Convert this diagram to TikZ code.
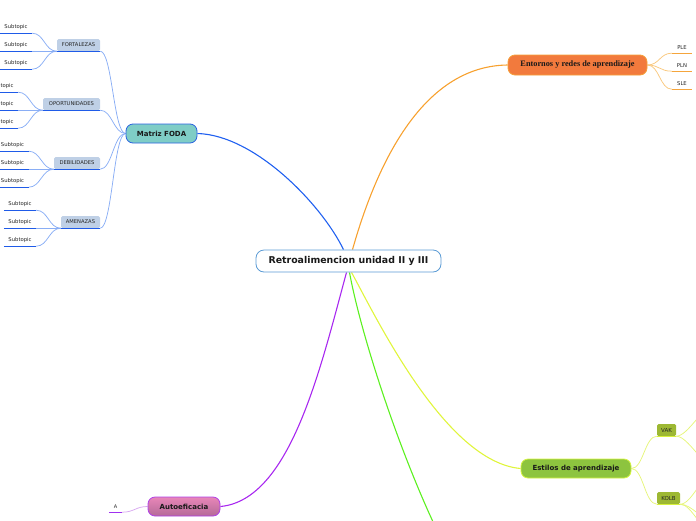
\documentclass[tikz,border=0pt]{standalone}
\usepackage{fontspec}
\setmainfont{DejaVu Sans}
\newfontfamily\serifbold{Liberation Serif}
\pgfdeclarelayer{background}
\pgfsetlayers{background,main}
\definecolor{cBorder}{HTML}{5B9BD5}
\definecolor{blueMain}{HTML}{2060F0}
\definecolor{mFill}{HTML}{7FCDC6}
\definecolor{mBorder}{HTML}{2A62E0}
\definecolor{fodaFill}{HTML}{BFD0E6}
\definecolor{fodaLine}{HTML}{1F5BE8}
\definecolor{subConn}{HTML}{8AAEF5}
\definecolor{oMain}{HTML}{F7A12F}
\definecolor{enFill}{HTML}{F27A3D}
\definecolor{enBorder}{HTML}{F5A03A}
\definecolor{oLight}{HTML}{F9C87E}
\definecolor{oLine}{HTML}{F5A53C}
\definecolor{yMain}{HTML}{E0F53C}
\definecolor{esFill}{HTML}{8DC43F}
\definecolor{esBorder}{HTML}{D6F442}
\definecolor{yLight}{HTML}{E6F57A}
\definecolor{vakFill}{HTML}{9DB833}
\definecolor{vakLine}{HTML}{D6F03C}
\definecolor{gMain}{HTML}{5CF020}
\definecolor{pMain}{HTML}{A828F0}
\definecolor{auTop}{HTML}{E886B8}
\definecolor{auBot}{HTML}{B46A98}
\definecolor{auBorder}{HTML}{B040E8}
\definecolor{pLight}{HTML}{D8A8F0}
\definecolor{pLine}{HTML}{A030F0}
\newcommand\lconn[3]{\draw[#1] (#2) .. controls +(-12,0) and +(12,0) .. (#3);}
\newcommand\rconn[3]{\draw[#1] (#2) .. controls +(12,0) and +(-12,0) .. (#3);}
\begin{document}
\begin{tikzpicture}[x=1pt,y=-1pt,
  central/.style={draw=cBorder,fill=white,rounded corners=8pt,line width=0.8pt,minimum width=185pt,minimum height=22pt,inner sep=0pt,font=\bfseries\fontsize{9.4}{10}\selectfont,text=black!90},
  topicbox/.style={rounded corners=7pt,line width=0.8pt,inner sep=0pt,minimum height=19pt,font=\bfseries\fontsize{7}{8}\selectfont,text=black!90},
  fodachild/.style={fill=fodaFill,rounded corners=1.5pt,inner sep=0pt,minimum height=12pt,font=\fontsize{5.2}{6}\selectfont,text=black!85},
  vakbox/.style={fill=vakFill,rounded corners=1.5pt,inner sep=0pt,minimum height=12pt,font=\fontsize{5.5}{6}\selectfont,text=black!85},
  subnode/.style={inner sep=0pt,minimum height=11pt,font=\fontsize{5.3}{6}\selectfont,text=black!85},
  mainconn/.style={line width=1.1pt},
  thinconn/.style={line width=0.75pt},
  uline/.style={line width=1.3pt}
]
\useasboundingbox (0,0) rectangle (696,520);
\clip (0,0) rectangle (696,520);

% ---- nodes ----
\node[central] (c) at (348.5,261) {Retroalimencion unidad II y III};
\node[topicbox,draw=mBorder,fill=mFill,minimum width=71pt] (m) at (161.5,133.5) {Matriz FODA};
\node[topicbox,draw=enBorder,fill=enFill,minimum width=139pt,minimum height=20pt,font=\serifbold\bfseries\fontsize{8.3}{9}\selectfont] (en) at (577.5,65) {Entornos y redes de aprendizaje};
\node[topicbox,draw=esBorder,fill=esFill,minimum width=110pt] (es) at (576,468.5) {Estilos de aprendizaje};
\node[topicbox,draw=auBorder,top color=auTop,bottom color=auBot,minimum width=72pt] (au) at (184,506.5) {Autoeficacia};

% FODA children
\node[fodachild,minimum width=43pt] (fo) at (78.5,45) {FORTALEZAS};
\node[fodachild,minimum width=57pt] (op) at (71.5,104) {OPORTUNIDADES};
\node[fodachild,minimum width=46pt] (de) at (77,163) {DEBILIDADES};
\node[fodachild,minimum width=39pt] (am) at (80.5,222) {AMENAZAS};
\foreach \n in {fo,op,de,am} \draw[uline,fodaLine] (\n.south west) -- (\n.south east);

% subtopics
\foreach \i/\yy in {1/27.5,2/45.5,3/63.5} {\node[subnode,minimum width=32pt] (fo\i) at (16,\yy) {Subtopic};}
\foreach \i/\yy in {1/86.5,2/104.5,3/122.5} {\node[subnode,minimum width=32pt] (op\i) at (2,\yy) {Subtopic};}
\foreach \i/\yy in {1/145.5,2/163.5,3/181.5} {\node[subnode,minimum width=32pt] (de\i) at (12.5,\yy) {Subtopic};}
\foreach \i/\yy in {1/204.5,2/222.5,3/240.5} {\node[subnode,minimum width=32pt] (am\i) at (20,\yy) {Subtopic};}
\foreach \n in {fo,op,de,am} {\foreach \i in {1,2,3} {\draw[uline,fodaLine] (\n\i.south west) -- (\n\i.south east);}}

% Entornos children
\node[subnode,minimum width=20pt] (ple) at (682,47.5) {PLE};
\node[subnode,minimum width=20pt] (pln) at (682,65.5) {PLN};
\node[subnode,minimum width=20pt] (sle) at (682,83.5) {SLE};
\foreach \n in {ple,pln,sle} \draw[uline,oLine,line width=1pt] (\n.south west) -- (\n.south east);

% Estilos children
\node[vakbox,minimum width=19pt] (vak) at (666.5,430) {VAK};
\node[vakbox,minimum width=23pt] (kolb) at (668.5,498) {KOLB};
\foreach \n in {vak,kolb} \draw[uline,vakLine,line width=1pt] (\n.south west) -- (\n.south east);
\coordinate (v1) at (715,405);
\coordinate (v2) at (715,467);
\coordinate (k1) at (715,472);
\coordinate (k2) at (715,522);
\coordinate (k3) at (715,535);

% Autoeficacia child
\node[subnode,minimum width=13pt,font=\fontsize{5}{6}\selectfont] (a) at (115.5,506.5) {A};
\draw[uline,pLine,line width=1pt] (a.south west) -- (a.south east);

% ---- connectors ----
\begin{pgfonlayer}{background}
\draw[mainconn,blueMain] (m.east) .. controls (255,135) and (322,205) .. ([xshift=-5pt]c.north);
\draw[mainconn,oMain] ([xshift=4pt]c.north) .. controls (375,170) and (420,66) .. (en.west);
\draw[mainconn,yMain] ([xshift=3pt]c.south) .. controls (375,315) and (445,462) .. (es.west);
\draw[mainconn,gMain] ([xshift=1pt]c.south) .. controls (360,330) and (395,440) .. (434,524);
\draw[mainconn,pMain] ([xshift=-2pt]c.south) .. controls (320,370) and (290,500) .. (au.east);

\foreach \n in {fo,op,de,am} {\lconn{thinconn,subConn}{m.west}{\n.south east}}
\foreach \n in {fo,op,de,am} {\foreach \i in {1,2,3} {\lconn{thinconn,subConn}{\n.south west}{\n\i.south east}}}
\foreach \n in {ple,pln,sle} {\rconn{thinconn,oLight}{en.east}{\n.south west}}
\foreach \n in {vak,kolb} {\rconn{thinconn,yLight}{es.east}{\n.south west}}
\foreach \n in {v1,v2} {\rconn{thinconn,yLight}{vak.south east}{\n}}
\foreach \n in {k1,k2,k3} {\rconn{thinconn,yLight}{kolb.south east}{\n}}
\lconn{thinconn,pLight}{au.west}{a.south east}
\end{pgfonlayer}
\end{tikzpicture}
\end{document}
